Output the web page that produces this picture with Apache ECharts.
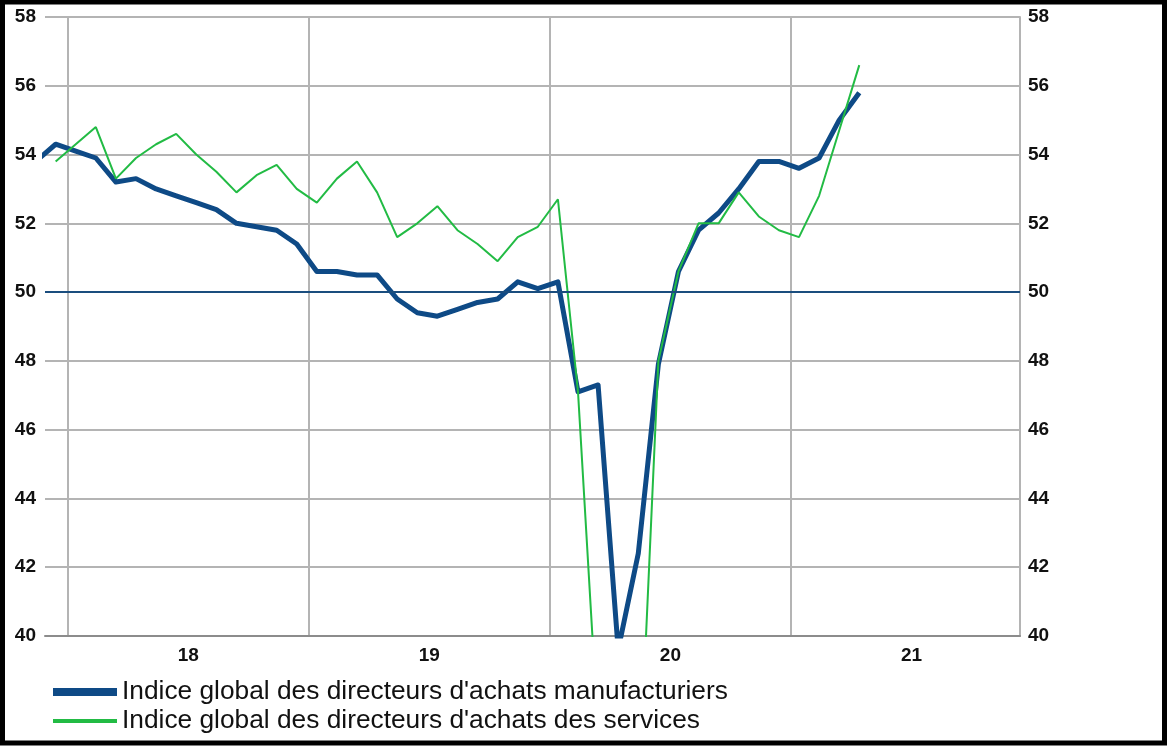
<!DOCTYPE html>
<html>
<head>
<meta charset="utf-8">
<script src="https://cdn.jsdelivr.net/npm/echarts@6/dist/echarts.min.js"></script>
<style>
html,body{margin:0;padding:0;background:#fff;}
#chart{width:1169px;height:747px;}
</style>
</head>
<body>
<div id="chart"></div>
<script>
// Months from Nov 2017 to Apr 2021
var months = ['2017-11','2017-12',
 '2018-01','2018-02','2018-03','2018-04','2018-05','2018-06','2018-07','2018-08','2018-09','2018-10','2018-11','2018-12',
 '2019-01','2019-02','2019-03','2019-04','2019-05','2019-06','2019-07','2019-08','2019-09','2019-10','2019-11','2019-12',
 '2020-01','2020-02','2020-03','2020-04','2020-05','2020-06','2020-07','2020-08','2020-09','2020-10','2020-11','2020-12',
 '2021-01','2021-02','2021-03','2021-04'];

var manufacturing = [53.8,54.3,
 54.1,53.9,53.2,53.3,53.0,52.8,52.6,52.4,52.0,51.9,51.8,51.4,
 50.6,50.6,50.5,50.5,49.8,49.4,49.3,49.5,49.7,49.8,50.3,50.1,
 50.3,47.1,47.3,39.6,42.4,47.9,50.6,51.8,52.3,53.0,53.8,53.8,
 53.6,53.9,55.0,55.8];

var services = [null,53.8,
 54.3,54.8,53.3,53.9,54.3,54.6,54.0,53.5,52.9,53.4,53.7,53.0,
 52.6,53.3,53.8,52.9,51.6,52.0,52.5,51.8,51.4,50.9,51.6,51.9,
 52.7,47.1,37.2,23.7,35.0,48.0,50.6,52.0,52.0,52.9,52.2,51.8,
 51.6,52.8,54.7,56.6];

var yearLabels = ['18','19','20','21'];
var yTicks = [40,42,44,46,48,50,52,54,56,58];
var threshold = 50;

var seriesNames = ["Indice global des directeurs d'achats manufacturiers",
                   "Indice global des directeurs d'achats des services"];

// month position: months since Jan 2018, plotted near mid-month
function monthPos(s){
  var p = s.split('-');
  return (parseInt(p[0],10)-2018)*12 + (parseInt(p[1],10)-1) + 0.4;
}
function toPairs(vals){
  return months.map(function(m,i){ return [monthPos(m), vals[i]]; });
}
var yearStarts = yearLabels.map(function(y,i){ return i*12; });
var yearMids = yearLabels.map(function(y,i){ return i*12+6; });

var chart = echarts.init(document.getElementById('chart'), null, {renderer:'canvas'});
var font = 'Liberation Sans, Arial, sans-serif';
var gridColor = '#b4b4b4';

chart.setOption({
  animation:false,
  backgroundColor:'#fff',
  grid:{left:45,right:149,top:17,bottom:111,containLabel:false},
  xAxis:{
    type:'value', min:-1.13, max:47.4,
    axisLine:{show:true,onZero:false,lineStyle:{color:'#8c8c8c',width:2}},
    axisTick:{show:false,customValues:yearStarts},
    splitLine:{show:true,lineStyle:{color:gridColor,width:2}},
    axisLabel:{customValues:yearMids,margin:10,color:'#111',fontWeight:'bold',fontSize:19,fontFamily:font,
      formatter:function(v){ var i=Math.round((v-6)/12); return yearLabels[i]||''; }}
  },
  yAxis:[{
    type:'value', min:yTicks[0], max:yTicks[yTicks.length-1], interval:2, position:'left',
    axisLine:{show:true,lineStyle:{color:gridColor,width:2}},
    axisTick:{show:false},
    splitLine:{show:true,lineStyle:{color:gridColor,width:2}},
    axisLabel:{margin:9,color:'#111',fontWeight:'bold',fontSize:19,fontFamily:font}
  },{
    type:'value', min:yTicks[0], max:yTicks[yTicks.length-1], interval:2, position:'right',
    axisLine:{show:true,lineStyle:{color:gridColor,width:2}},
    axisTick:{show:false},
    splitLine:{show:false},
    axisLabel:{margin:8,color:'#111',fontWeight:'bold',fontSize:19,fontFamily:font}
  }],
  legend:[{
    data:[seriesNames[0]], left:53, top:679, padding:0, icon:'rect',
    itemWidth:64, itemHeight:8,
    textStyle:{fontSize:26.3,color:'#111',fontFamily:font}
  },{
    data:[seriesNames[1]], left:53, top:708, padding:0, icon:'rect',
    itemWidth:64, itemHeight:4,
    textStyle:{fontSize:26.3,color:'#111',fontFamily:font}
  }],
  graphic:[{
    type:'rect', silent:true, z:100,
    shape:{x:2.5,y:2,width:1162,height:741},
    style:{fill:null,stroke:'#000',lineWidth:5}
  }],
  series:[{
    type:'line', name:'ref', data:[], silent:true,
    markLine:{silent:true,symbol:'none',label:{show:false},
      lineStyle:{color:'#1a4d7e',width:2,type:'solid'},
      data:[{yAxis:threshold}]}
  },{
    type:'line', name:seriesNames[0], data:toPairs(manufacturing),
    showSymbol:false, symbol:'none', clip:true,
    lineStyle:{color:'#0e4a86',width:5,join:'round'},
    itemStyle:{color:'#0e4a86'}
  },{
    type:'line', name:seriesNames[1], data:toPairs(services),
    showSymbol:false, symbol:'none', clip:true, connectNulls:false,
    lineStyle:{color:'#22bb44',width:2},
    itemStyle:{color:'#22bb44'}
  }]
});
</script>
</body>
</html>
